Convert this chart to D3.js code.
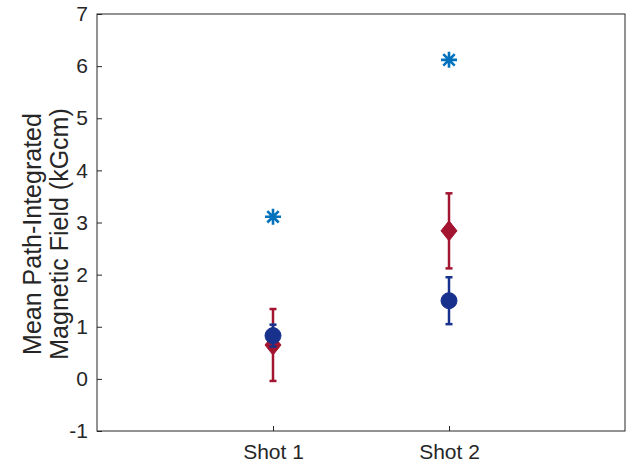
<!DOCTYPE html>
<html><head><meta charset="utf-8">
<script src="https://cdn.jsdelivr.net/npm/d3@7"></script>
<style>body{margin:0;background:#fff}svg{display:block}text{font-family:"Liberation Sans",Arial,sans-serif;fill:#262626}</style>
</head><body><svg id="c" width="635" height="466"></svg>
<script>
const categories = ["Shot 1", "Shot 2"];
const starValues = [3.11, 6.12];
const redMeans = [0.65, 2.84];
const redErrors = [0.69, 0.72];
const blueMeans = [0.83, 1.50];
const blueErrors = [0.21, 0.45];
const yTicks = [-1, 0, 1, 2, 3, 4, 5, 6, 7];

const M = {left: 97, right: 625, top: 14, bottom: 431};
const svg = d3.select("#c");
const x = d3.scaleLinear().domain([0, 3]).range([M.left, M.right]);
const y = d3.scaleLinear().domain([-1, 7]).range([M.bottom, M.top]);
const axisColor = "#262626";

svg.append("rect").attr("width", 635).attr("height", 466).attr("fill", "#fff");

// box
svg.append("rect").attr("x", M.left).attr("y", M.top)
  .attr("width", M.right - M.left).attr("height", M.bottom - M.top)
  .attr("fill", "none").attr("stroke", axisColor).attr("stroke-width", 1);

// y axis
const yAxis = d3.axisLeft(y).tickValues(yTicks).tickSize(-5).tickPadding(9).tickFormat((d) => String(d));
const gy = svg.append("g").attr("transform", `translate(${M.left},0)`).call(yAxis);
gy.select(".domain").remove();
gy.selectAll("line").attr("stroke", axisColor);
gy.selectAll("text").style("font-size", "21px").attr("fill", axisColor);

// x axis
const xAxis = d3.axisBottom(x).tickValues([1, 2]).tickSize(-5).tickPadding(13)
  .tickFormat((d) => categories[d - 1]);
const gx = svg.append("g").attr("transform", `translate(0,${M.bottom})`).call(xAxis);
gx.select(".domain").remove();
gx.selectAll("line").attr("stroke", axisColor);
gx.selectAll("text").style("font-size", "21px").attr("fill", axisColor);

// y label
const yl = svg.append("text").attr("transform", `translate(41,234) rotate(-90)`)
  .attr("text-anchor", "middle").style("font-size", "25px");
yl.append("tspan").attr("x", 0).attr("dy", 0).text("Mean Path-Integrated");
yl.append("tspan").attr("x", 0).attr("dy", 27).text("Magnetic Field (kGcm)");

function errorBars(means, errs, color) {
  const g = svg.append("g").attr("stroke", color).attr("stroke-width", 2.5);
  means.forEach((m, i) => {
    const cx = x(i + 1), y1 = y(m + errs[i]), y2 = y(m - errs[i]);
    g.append("line").attr("x1", cx).attr("x2", cx).attr("y1", y1).attr("y2", y2);
    g.append("line").attr("x1", cx - 3.5).attr("x2", cx + 3.5).attr("y1", y1).attr("y2", y1);
    g.append("line").attr("x1", cx - 3.5).attr("x2", cx + 3.5).attr("y1", y2).attr("y2", y2);
  });
}

const red = "#A2142F", blue = "#17318C", star = "#0072BD";

// red diamonds
errorBars(redMeans, redErrors, red);
svg.append("g").selectAll("path").data(redMeans).join("path")
  .attr("d", "M0,-10L8,0L0,10L-8,0Z")
  .attr("transform", (d, i) => `translate(${x(i + 1)},${y(d)})`)
  .attr("fill", red).attr("stroke", red).attr("stroke-width", 1);

// blue circles
errorBars(blueMeans, blueErrors, blue);
svg.append("g").selectAll("circle").data(blueMeans).join("circle")
  .attr("cx", (d, i) => x(i + 1)).attr("cy", (d) => y(d)).attr("r", 8)
  .attr("fill", blue).attr("stroke", blue).attr("stroke-width", 1);

// stars
const s = 8, sd = 5.7;
const starPath = `M0,${-s}V${s}M${-s},0H${s}M${-sd},${-sd}L${sd},${sd}M${-sd},${sd}L${sd},${-sd}`;
svg.append("g").selectAll("path").data(starValues).join("path")
  .attr("d", starPath)
  .attr("transform", (d, i) => `translate(${x(i + 1)},${y(d)})`)
  .attr("fill", "none").attr("stroke", star).attr("stroke-width", 2.6);
</script></body></html>
